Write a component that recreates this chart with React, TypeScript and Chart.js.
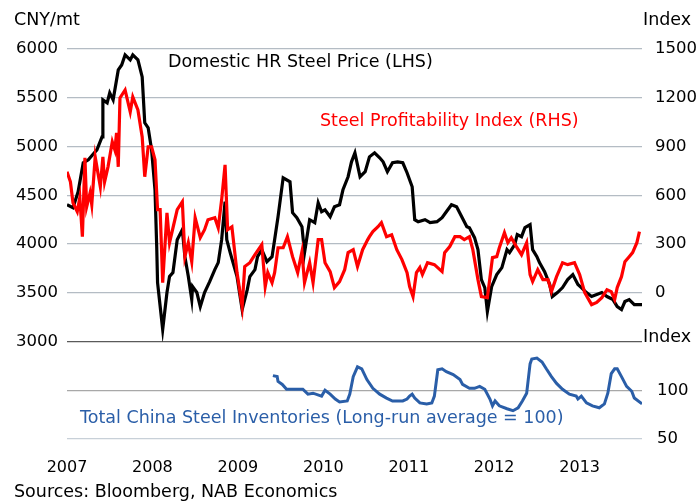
import React, { useEffect, useRef } from "react";
import { Chart, registerables } from "chart.js";
Chart.register(...registerables);

// Domestic HR steel price (CNY/mt, LHS)
const priceDates = [2007.00,2007.07,2007.13,2007.19,2007.25,2007.30,2007.35,2007.41,2007.42,2007.47,2007.50,2007.54,2007.60,2007.64,2007.68,2007.74,2007.77,2007.83,2007.88,2007.91,2007.95,2007.99,2008.03,2008.05,2008.06,2008.12,2008.17,2008.20,2008.24,2008.29,2008.35,2008.38,2008.42,2008.46,2008.47,2008.52,2008.56,2008.61,2008.67,2008.73,2008.77,2008.81,2008.85,2008.87,2008.91,2008.99,2009.05,2009.11,2009.14,2009.20,2009.23,2009.28,2009.34,2009.40,2009.43,2009.47,2009.53,2009.61,2009.64,2009.69,2009.75,2009.78,2009.84,2009.90,2009.94,2009.98,2010.02,2010.08,2010.13,2010.19,2010.23,2010.29,2010.33,2010.37,2010.43,2010.49,2010.54,2010.60,2010.66,2010.70,2010.75,2010.81,2010.87,2010.93,2010.98,2011.04,2011.07,2011.11,2011.19,2011.25,2011.33,2011.39,2011.44,2011.50,2011.56,2011.62,2011.68,2011.71,2011.77,2011.81,2011.85,2011.89,2011.92,2011.97,2012.03,2012.09,2012.15,2012.18,2012.24,2012.27,2012.32,2012.36,2012.42,2012.45,2012.50,2012.53,2012.59,2012.65,2012.68,2012.74,2012.80,2012.86,2012.92,2012.98,2013.02,2013.08,2013.14,2013.20,2013.26,2013.32,2013.39,2013.44,2013.49,2013.53,2013.58,2013.64,2013.73];
const priceValues = [4403,4372,4536,4833,4864,4915,4966,5099,5478,5447,5550,5478,5785,5836,5939,5888,5939,5888,5714,5243,5191,4966,4556,3973,3604,3123,3502,3666,3707,4044,4147,3870,3666,3430,3563,3502,3358,3502,3614,3737,3809,4044,4434,4044,3911,3666,3328,3532,3666,3737,3870,3942,3819,3870,4044,4280,4679,4638,4321,4270,4178,3911,4249,4219,4423,4331,4351,4280,4382,4403,4556,4690,4843,4935,4690,4741,4894,4935,4884,4843,4741,4833,4843,4833,4731,4587,4249,4229,4249,4219,4229,4270,4331,4403,4382,4280,4178,4167,4065,3942,3635,3553,3307,3563,3686,3758,3942,3911,3993,4096,4075,4167,4198,3942,3870,3809,3717,3584,3461,3502,3553,3635,3686,3584,3553,3502,3461,3481,3502,3461,3430,3358,3328,3410,3430,3379,3379];

// Steel profitability index (RHS)
const profitDates = [2007.00,2007.04,2007.07,2007.12,2007.15,2007.18,2007.21,2007.23,2007.27,2007.29,2007.33,2007.39,2007.42,2007.44,2007.48,2007.53,2007.56,2007.58,2007.60,2007.62,2007.68,2007.74,2007.77,2007.83,2007.88,2007.91,2007.95,2007.99,2008.03,2008.06,2008.09,2008.12,2008.17,2008.20,2008.29,2008.35,2008.38,2008.42,2008.46,2008.50,2008.56,2008.61,2008.65,2008.73,2008.77,2008.81,2008.85,2008.88,2008.93,2008.99,2009.05,2009.08,2009.14,2009.20,2009.28,2009.32,2009.35,2009.40,2009.43,2009.47,2009.53,2009.58,2009.64,2009.70,2009.75,2009.78,2009.84,2009.88,2009.94,2009.98,2010.02,2010.08,2010.13,2010.19,2010.25,2010.29,2010.35,2010.40,2010.46,2010.52,2010.54,2010.58,2010.64,2010.68,2010.74,2010.80,2010.86,2010.92,2010.98,2011.01,2011.05,2011.09,2011.13,2011.16,2011.22,2011.30,2011.39,2011.42,2011.48,2011.54,2011.60,2011.65,2011.71,2011.75,2011.81,2011.85,2011.92,2011.98,2012.03,2012.06,2012.12,2012.16,2012.20,2012.26,2012.32,2012.38,2012.42,2012.45,2012.51,2012.57,2012.63,2012.67,2012.73,2012.80,2012.86,2012.94,2013.00,2013.06,2013.14,2013.20,2013.26,2013.32,2013.37,2013.41,2013.44,2013.49,2013.53,2013.58,2013.62,2013.67,2013.70];
const profitValues = [744,683,554,499,585,345,830,529,615,542,836,652,836,683,775,929,879,984,775,1199,1248,1113,1205,1125,959,714,898,898,818,511,511,62,492,308,511,560,222,308,191,462,339,388,449,462,400,572,787,388,406,124,-85,161,185,234,296,38,124,62,124,277,277,345,222,124,253,62,185,62,327,327,185,130,32,69,142,247,265,161,265,327,345,376,406,431,345,357,265,204,124,38,-24,124,155,112,185,173,130,247,284,345,345,327,345,265,81,-24,-30,216,222,277,370,308,339,284,234,308,112,69,142,81,81,7,99,185,173,185,112,1,-73,-60,-30,19,7,-42,32,99,191,222,247,308,376];

// Total China steel inventories (long-run average = 100)
const invDates = [2009.41,2009.46,2009.47,2009.52,2009.57,2009.76,2009.82,2009.88,2009.98,2010.02,2010.08,2010.14,2010.19,2010.28,2010.31,2010.35,2010.40,2010.45,2010.51,2010.58,2010.66,2010.74,2010.81,2010.93,2010.98,2011.01,2011.04,2011.07,2011.13,2011.21,2011.27,2011.30,2011.34,2011.39,2011.44,2011.52,2011.60,2011.63,2011.71,2011.77,2011.83,2011.89,2011.95,2011.98,2012.01,2012.06,2012.15,2012.22,2012.28,2012.33,2012.38,2012.42,2012.44,2012.50,2012.56,2012.61,2012.67,2012.73,2012.80,2012.88,2012.96,2012.98,2013.02,2013.08,2013.15,2013.23,2013.29,2013.33,2013.37,2013.41,2013.44,2013.49,2013.55,2013.61,2013.64,2013.73];
const invValues = [115,114,109,106,101,101,96,97,94,100,96,91,88,89,96,114,124,122,111,102,96,92,89,89,91,94,96,92,87,86,87,94,121,122,119,116,111,106,102,102,104,101,91,84,89,84,81,79,82,89,97,127,132,133,129,122,114,107,101,96,94,91,94,87,84,82,86,97,117,122,122,114,104,99,92,86];

const yearTicks = [2007, 2008, 2009, 2010, 2011, 2012, 2013];
const lhsRange = [3000, 6000];
const rhsRange = [-300, 1500];
const invRange = [50, 150];

const FONT = "'DejaVu Sans', sans-serif";
const RED = "#ff0000";
const BLUE = "#2a5ea8";

const pairs = (xs: number[], ys: number[]) => xs.map((x, i) => ({ x, y: ys[i] }));

const textPlugin = {
  id: "annotTexts",
  afterDraw(chart: any) {
    const ctx = chart.ctx;
    ctx.save();
    ctx.font = `17.5px ${FONT}`;
    ctx.textBaseline = "middle";
    ctx.textAlign = "left";
    ctx.fillStyle = "#000";
    ctx.fillText("CNY/mt", 14, 20);
    ctx.fillText("Index", 643, 20);
    ctx.fillText("Index", 643, 337);
    ctx.fillText("Domestic HR Steel Price (LHS)", 168, 62);
    ctx.fillStyle = RED;
    ctx.fillText("Steel Profitability Index (RHS)", 320, 121);
    ctx.fillStyle = BLUE;
    ctx.fillText("Total China Steel Inventories (Long-run average = 100)", 80, 418);
    ctx.fillStyle = "#000";
    ctx.fillText("Sources: Bloomberg, NAB Economics", 14, 492);
    ctx.restore();
  },
};

export default function App() {
  const ref = useRef<HTMLCanvasElement | null>(null);
  useEffect(() => {
    document.body.style.margin = "0";
    const canvas = ref.current!;
    const tickFont = { family: FONT, size: 16.5 };
    const chart = new Chart(canvas, {
      type: "line",
      data: {
        datasets: [
          { label: "Steel Profitability Index (RHS)", data: pairs(profitDates, profitValues), yAxisID: "yR", borderColor: RED, borderWidth: 3.2, pointRadius: 0, tension: 0 },
          { label: "Domestic HR Steel Price (LHS)", data: pairs(priceDates, priceValues), yAxisID: "yL", borderColor: "#000", borderWidth: 3.2, pointRadius: 0, tension: 0 },
          { label: "Total China Steel Inventories", data: pairs(invDates, invValues), yAxisID: "yB", borderColor: BLUE, borderWidth: 3, pointRadius: 0, tension: 0 },
        ],
      },
      options: {
        animation: false,
        responsive: false,
        devicePixelRatio: 1,
        layout: { padding: { top: 49, left: 0, right: 0, bottom: 0 } },
        plugins: { legend: { display: false }, tooltip: { enabled: false }, title: { display: false } },
        scales: {
          x: {
            type: "linear",
            min: yearTicks[0],
            max: 2013.73,
            grid: { display: false, drawTicks: false },
            border: { display: false },
            afterBuildTicks: (s: any) => { s.ticks = yearTicks.map((v) => ({ value: v })); },
            afterFit: (s: any) => { s.height = 62; },
            ticks: { color: "#000", font: { family: FONT, size: 16 }, padding: 19, maxRotation: 0, autoSkip: false, callback: (v: any) => String(v) },
          },
          yLb: {
            type: "linear",
            position: "left",
            stack: "left",
            stackWeight: 1,
            min: invRange[0],
            max: invRange[1],
            afterFit: (s: any) => { s.width = 67; },
            border: { display: false },
            grid: { display: false },
            ticks: { display: false },
          },
          yL: {
            type: "linear",
            position: "left",
            stack: "left",
            stackWeight: 3,
            min: lhsRange[0],
            max: lhsRange[1],
            afterFit: (s: any) => { s.width = 67; },
            border: { display: false },
            grid: {
              drawTicks: false,
              lineWidth: 1.3,
              color: (c: any) => (c.tick && c.tick.value === lhsRange[0] ? "#5a5a5a" : "#b4bcc4"),
            },
            ticks: { stepSize: 500, color: "#000", font: tickFont, padding: 9, callback: (v: any) => String(v) },
          },
          yR: {
            type: "linear",
            position: "right",
            stack: "right",
            stackWeight: 3,
            min: rhsRange[0],
            max: rhsRange[1],
            afterFit: (s: any) => { s.width = 54; },
            border: { display: false },
            grid: { display: false, drawTicks: false },
            ticks: { stepSize: 300, color: "#000", font: tickFont, padding: 13, callback: (v: any) => (v === rhsRange[0] ? "" : String(v)) },
          },
          yB: {
            type: "linear",
            position: "right",
            stack: "right",
            stackWeight: 1,
            min: invRange[0],
            max: invRange[1],
            afterFit: (s: any) => { s.width = 54; },
            border: { display: false },
            grid: {
              drawTicks: false,
              lineWidth: 1.3,
              color: (c: any) => (c.tick && c.tick.value === invRange[1] ? "rgba(0,0,0,0)" : c.tick && c.tick.value === invRange[0] ? "#c8d0d8" : "#a8a8a8"),
            },
            ticks: { stepSize: 50, color: "#000", font: tickFont, padding: 15, callback: (v: any) => (v === invRange[1] ? "" : String(v)) },
          },
        },
      } as any,
      plugins: [textPlugin],
    });
    return () => chart.destroy();
  }, []);
  return <canvas ref={ref} width={696} height={501} style={{ display: "block", width: 696, height: 501 }} />;
}
